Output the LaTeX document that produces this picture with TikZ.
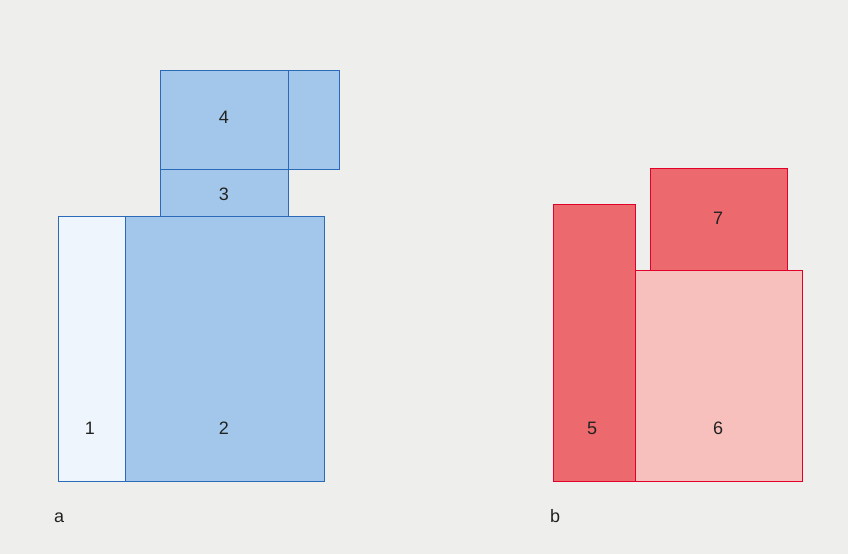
\documentclass[tikz,border=0pt]{standalone}
\usepackage{fontspec}
\setmainfont{Liberation Sans}
\usetikzlibrary{positioning}
\definecolor{bgcol}{HTML}{EEEFEC}
\definecolor{bluefill}{HTML}{A2C7EA}
\definecolor{bluelight}{HTML}{EEF5FC}
\definecolor{blueline}{HTML}{2A6AB8}
\definecolor{redfill}{HTML}{EC6A6E}
\definecolor{redlight}{HTML}{F7C0BC}
\definecolor{redline}{HTML}{E2002A}
\definecolor{txtcol}{HTML}{222222}

\begin{document}
\begin{tikzpicture}[
  x=1pt, y=-1pt,
  bluebox/.style={draw=blueline, fill=bluefill, line width=1.3pt, inner sep=0pt, anchor=north west},
  redbox/.style={draw=redline, fill=redfill, line width=1.3pt, inner sep=0pt, anchor=north west},
  num/.style={text=txtcol, font=\fontsize{18}{20}\selectfont, inner sep=0pt},
  panel/.style={text=txtcol, font=\fontsize{18}{20}\selectfont, inner sep=0pt, anchor=base west}
]
\fill[bgcol] (0,0) rectangle (848,554);
\useasboundingbox (0,0) rectangle (848,554);

% a
\node[bluebox, fill=bluelight, minimum width=67pt, minimum height=265pt] (b1) at (57.5,216) {};
\node[bluebox, minimum width=199.5pt, minimum height=265pt] (b2) at (124.5,216) {};
\node[bluebox, minimum width=128pt, minimum height=47pt] (b3) at (160,169) {};
\node[bluebox, minimum width=128pt, minimum height=99.5pt] (b4) at (160,69.5) {};
\node[bluebox, minimum width=50.5pt, minimum height=99.5pt] (b4r) at (288,69.5) {};
\node[num] (n1) at (90,428) {1};
\node[num] (n2) at (224,428) {2};
\node[num] (n3) at (224,194) {3};
\node[num] (n4) at (224,117) {4};
\node[panel] (pa) at (54,522) {a};

% b
\node[redbox, minimum width=82pt, minimum height=277pt] (b5) at (553,204) {};
\node[redbox, fill=redlight, minimum width=167pt, minimum height=211.5pt] (b6) at (635,269.5) {};
\node[redbox, minimum width=136.5pt, minimum height=102pt] (b7) at (650,167.5) {};
\node[num] (n5) at (592,428) {5};
\node[num] (n6) at (718,428) {6};
\node[num] (n7) at (718,218) {7};
\node[panel] (pb) at (550,522) {b};
\end{tikzpicture}
\end{document}
